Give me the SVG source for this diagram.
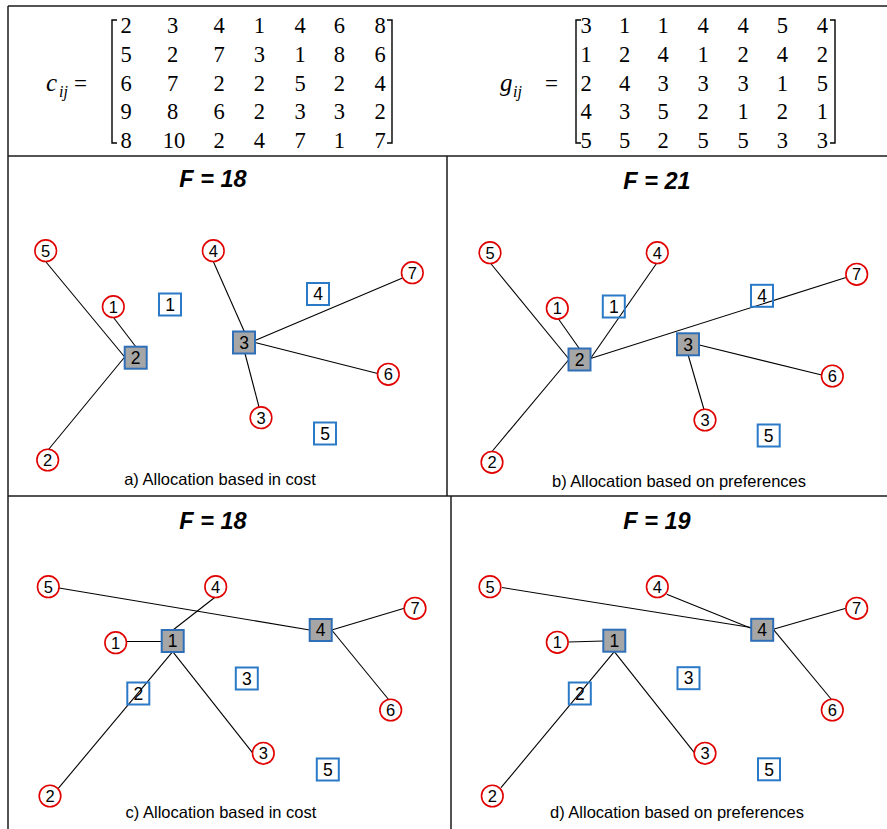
<svg xmlns="http://www.w3.org/2000/svg" width="887" height="829" viewBox="0 0 887 829">
<style>
.frame{stroke:#1a1a1a;stroke-width:1.5;fill:none}
.br{stroke:#000;stroke-width:1.4;fill:none}
.mx{font-family:"Liberation Serif",serif;font-size:22.5px;fill:#000;text-anchor:middle}
.mv{font-family:"Liberation Serif",serif;font-size:25px;font-style:italic;fill:#000}
.ms{font-family:"Liberation Serif",serif;font-size:16px;font-style:italic;fill:#000}
.eq{font-family:"Liberation Serif",serif;font-size:23px;fill:#000}
.title{font-family:"Liberation Sans",Arial,sans-serif;font-size:23.5px;font-weight:bold;font-style:italic;fill:#000;text-anchor:middle}
.cap{font-family:"Liberation Sans",Arial,sans-serif;font-size:16.5px;fill:#000;text-anchor:middle}
.cl circle{fill:#fff;stroke:#e00000;stroke-width:1.6}
.cl text{font-family:"Liberation Sans",Arial,sans-serif;font-size:16.5px;fill:#000;text-anchor:middle}
.fa rect{fill:none;stroke:#2a7ac8;stroke-width:2}
.fa.open rect{fill:#a6a6a6;stroke:#2e6fb8}
.fa text{font-family:"Liberation Sans",Arial,sans-serif;font-size:17.5px;fill:#000;text-anchor:middle}
.conn line{stroke:#000;stroke-width:1.1}
</style>

<!-- frame -->
<g id="frame">
<line class="frame" x1="8" y1="6" x2="887" y2="6"/>
<line class="frame" x1="8" y1="6" x2="8" y2="829"/>
<line class="frame" x1="8" y1="156" x2="887" y2="156"/>
<line class="frame" x1="447" y1="156" x2="447" y2="496"/>
<line class="frame" x1="8" y1="496" x2="887" y2="496"/>
<line class="frame" x1="451" y1="496" x2="451" y2="829"/>
</g>

<!-- matrix c -->
<g id="matrix-c">
<text class="mv" x="46" y="91">c</text>
<text class="ms" x="59" y="97">ij</text>
<text class="eq" x="74" y="91">=</text>
<path class="br" d="M117 20 H112 V143 H117"/>
<path class="br" d="M387 20 H392 V143 H387"/>
<text class="mx" y="33"><tspan x="126">2</tspan><tspan x="172.5">3</tspan><tspan x="219">4</tspan><tspan x="259.3">1</tspan><tspan x="300">4</tspan><tspan x="339.3">6</tspan><tspan x="380">8</tspan></text>
<text class="mx" y="61.8"><tspan x="126">5</tspan><tspan x="172.5">2</tspan><tspan x="219">7</tspan><tspan x="259.3">3</tspan><tspan x="300">1</tspan><tspan x="339.3">8</tspan><tspan x="380">6</tspan></text>
<text class="mx" y="90.6"><tspan x="126">6</tspan><tspan x="172.5">7</tspan><tspan x="219">2</tspan><tspan x="259.3">2</tspan><tspan x="300">5</tspan><tspan x="339.3">2</tspan><tspan x="380">4</tspan></text>
<text class="mx" y="119.4"><tspan x="126">9</tspan><tspan x="172.5">8</tspan><tspan x="219">6</tspan><tspan x="259.3">2</tspan><tspan x="300">3</tspan><tspan x="339.3">3</tspan><tspan x="380">2</tspan></text>
<text class="mx" y="148.2"><tspan x="126">8</tspan><tspan x="174">10</tspan><tspan x="219">2</tspan><tspan x="259.3">4</tspan><tspan x="300">7</tspan><tspan x="339.3">1</tspan><tspan x="380">7</tspan></text>
</g>

<!-- matrix g -->
<g id="matrix-g">
<text class="mv" x="500" y="91">g</text>
<text class="ms" x="513" y="97">ij</text>
<text class="eq" x="545" y="91">=</text>
<path class="br" d="M581 20 H576 V143 H581"/>
<path class="br" d="M830 20 H835 V143 H830"/>
<text class="mx" y="33"><tspan x="586">3</tspan><tspan x="624.7">1</tspan><tspan x="663">1</tspan><tspan x="703">4</tspan><tspan x="743">4</tspan><tspan x="782.3">5</tspan><tspan x="822.3">4</tspan></text>
<text class="mx" y="61.8"><tspan x="586">1</tspan><tspan x="624.7">2</tspan><tspan x="663">4</tspan><tspan x="703">1</tspan><tspan x="743">2</tspan><tspan x="782.3">4</tspan><tspan x="822.3">2</tspan></text>
<text class="mx" y="90.6"><tspan x="586">2</tspan><tspan x="624.7">4</tspan><tspan x="663">3</tspan><tspan x="703">3</tspan><tspan x="743">3</tspan><tspan x="782.3">1</tspan><tspan x="822.3">5</tspan></text>
<text class="mx" y="119.4"><tspan x="586">4</tspan><tspan x="624.7">3</tspan><tspan x="663">5</tspan><tspan x="703">2</tspan><tspan x="743">1</tspan><tspan x="782.3">2</tspan><tspan x="822.3">1</tspan></text>
<text class="mx" y="148.2"><tspan x="586">5</tspan><tspan x="624.7">5</tspan><tspan x="663">2</tspan><tspan x="703">5</tspan><tspan x="743">5</tspan><tspan x="782.3">3</tspan><tspan x="822.3">3</tspan></text>
</g>

<!-- titles and captions -->
<text class="title" x="213" y="187">F = 18</text>
<text class="title" x="657" y="189">F = 21</text>
<text class="title" x="213" y="529">F = 18</text>
<text class="title" x="657" y="529">F = 19</text>
<text class="cap" x="220" y="485">a) Allocation based in cost</text>
<text class="cap" x="679" y="486.5">b) Allocation based on preferences</text>
<text class="cap" x="221" y="818">c) Allocation based in cost</text>
<text class="cap" x="677" y="818">d) Allocation based on preferences</text>

<!-- connectors -->
<g id="connectors" class="conn">
<!-- panel a -->
<line x1="46" y1="262" x2="124.7" y2="357"/>
<line x1="113.5" y1="317.5" x2="136" y2="347"/>
<line x1="48.5" y1="449.5" x2="124.7" y2="357"/>
<line x1="213.3" y1="261.5" x2="244.3" y2="331.5"/>
<line x1="255" y1="340.5" x2="402.5" y2="278"/>
<line x1="255" y1="342.5" x2="377.7" y2="373.5"/>
<line x1="245" y1="353.5" x2="259" y2="407"/>
<!-- panel b -->
<line x1="490.7" y1="263.5" x2="568.5" y2="358.5"/>
<line x1="558.3" y1="318.8" x2="579.3" y2="348.5"/>
<line x1="656.5" y1="263.5" x2="590.5" y2="358.5"/>
<line x1="590.5" y1="358.5" x2="846" y2="277.5"/>
<line x1="492" y1="451.5" x2="568.5" y2="360"/>
<line x1="699.3" y1="345" x2="821.7" y2="375"/>
<line x1="688.3" y1="355.5" x2="704" y2="409.5"/>
<!-- panel c -->
<line x1="59" y1="588" x2="309.7" y2="630"/>
<line x1="215" y1="597.3" x2="172.7" y2="630.3"/>
<line x1="126.7" y1="641.5" x2="161.7" y2="641.5"/>
<line x1="172.7" y1="651.7" x2="58.3" y2="788.3"/>
<line x1="172.7" y1="651.7" x2="253" y2="753.3"/>
<line x1="331.7" y1="630" x2="404.3" y2="608.3"/>
<line x1="331.7" y1="630" x2="389" y2="700"/>
<!-- panel d -->
<line x1="502" y1="587.5" x2="751" y2="627.5"/>
<line x1="666.7" y1="594.3" x2="751" y2="628.3"/>
<line x1="773.3" y1="629.3" x2="846" y2="608.3"/>
<line x1="773.3" y1="629.3" x2="831.5" y2="699.5"/>
<line x1="568.5" y1="642" x2="603.3" y2="641"/>
<line x1="614.3" y1="651.7" x2="501" y2="787.7"/>
<line x1="614.3" y1="651.7" x2="694.3" y2="752.7"/>
</g>

<!-- panel a nodes -->
<g id="a-c1" class="cl"><circle cx="113.3" cy="306.7" r="10.8"/><text x="113.3" y="312.6">1</text></g>
<g id="a-c2" class="cl"><circle cx="47.7" cy="460" r="10.8"/><text x="47.7" y="465.9">2</text></g>
<g id="a-c3" class="cl"><circle cx="261" cy="417.7" r="10.8"/><text x="261" y="423.6">3</text></g>
<g id="a-c4" class="cl"><circle cx="213.3" cy="250.7" r="10.8"/><text x="213.3" y="256.6">4</text></g>
<g id="a-c5" class="cl"><circle cx="45.7" cy="250.7" r="10.8"/><text x="45.7" y="256.6">5</text></g>
<g id="a-c6" class="cl"><circle cx="388.3" cy="374.3" r="10.8"/><text x="388.3" y="380.2">6</text></g>
<g id="a-c7" class="cl"><circle cx="412.3" cy="272.7" r="10.8"/><text x="412.3" y="278.6">7</text></g>
<g id="a-s1" class="fa"><rect x="159" y="293.5" width="22" height="22"/><text x="170" y="310.7">1</text></g>
<g id="a-s2" class="fa open"><rect x="124.7" y="346.7" width="22" height="22"/><text x="135.7" y="363.9">2</text></g>
<g id="a-s3" class="fa open"><rect x="233" y="331.5" width="22" height="22"/><text x="244" y="348.7">3</text></g>
<g id="a-s4" class="fa"><rect x="307" y="283" width="22" height="22"/><text x="318" y="300.2">4</text></g>
<g id="a-s5" class="fa"><rect x="314" y="422.5" width="22" height="22"/><text x="325" y="439.7">5</text></g>

<!-- panel b nodes -->
<g id="b-c1" class="cl"><circle cx="557.3" cy="308.3" r="10.8"/><text x="557.3" y="314.2">1</text></g>
<g id="b-c2" class="cl"><circle cx="492" cy="462.3" r="10.8"/><text x="492" y="468.2">2</text></g>
<g id="b-c3" class="cl"><circle cx="705" cy="420" r="10.8"/><text x="705" y="425.9">3</text></g>
<g id="b-c4" class="cl"><circle cx="657.3" cy="252.7" r="10.8"/><text x="657.3" y="258.6">4</text></g>
<g id="b-c5" class="cl"><circle cx="490" cy="252.7" r="10.8"/><text x="490" y="258.6">5</text></g>
<g id="b-c6" class="cl"><circle cx="832.3" cy="376" r="10.8"/><text x="832.3" y="381.9">6</text></g>
<g id="b-c7" class="cl"><circle cx="856.7" cy="274.3" r="10.8"/><text x="856.7" y="280.2">7</text></g>
<g id="b-s1" class="fa"><rect x="602.8" y="295.5" width="22" height="22"/><text x="613.8" y="312.7">1</text></g>
<g id="b-s2" class="fa open"><rect x="568.5" y="348.5" width="22" height="22"/><text x="579.5" y="365.7">2</text></g>
<g id="b-s3" class="fa open"><rect x="677" y="333.3" width="22" height="22"/><text x="688" y="350.5">3</text></g>
<g id="b-s4" class="fa"><rect x="751" y="284.8" width="22" height="22"/><text x="762" y="302">4</text></g>
<g id="b-s5" class="fa"><rect x="757.7" y="424.5" width="22" height="22"/><text x="768.7" y="441.7">5</text></g>

<!-- panel c nodes -->
<g id="c-c1" class="cl"><circle cx="115.7" cy="642.7" r="10.8"/><text x="115.7" y="648.6">1</text></g>
<g id="c-c2" class="cl"><circle cx="50" cy="796" r="10.8"/><text x="50" y="801.9">2</text></g>
<g id="c-c3" class="cl"><circle cx="263.3" cy="753.3" r="10.8"/><text x="263.3" y="759.2">3</text></g>
<g id="c-c4" class="cl"><circle cx="215.7" cy="586.7" r="10.8"/><text x="215.7" y="592.6">4</text></g>
<g id="c-c5" class="cl"><circle cx="48.3" cy="586.7" r="10.8"/><text x="48.3" y="592.6">5</text></g>
<g id="c-c6" class="cl"><circle cx="390.7" cy="710" r="10.8"/><text x="390.7" y="715.9">6</text></g>
<g id="c-c7" class="cl"><circle cx="415" cy="608.3" r="10.8"/><text x="415" y="614.2">7</text></g>
<g id="c-s1" class="fa open"><rect x="161.7" y="630" width="22" height="22"/><text x="172.7" y="647.2">1</text></g>
<g id="c-s2" class="fa"><rect x="127.3" y="682.5" width="22" height="22"/><text x="138.3" y="699.7">2</text></g>
<g id="c-s3" class="fa"><rect x="235.8" y="667.5" width="22" height="22"/><text x="246.8" y="684.7">3</text></g>
<g id="c-s4" class="fa open"><rect x="309.7" y="619" width="22" height="22"/><text x="320.7" y="636.2">4</text></g>
<g id="c-s5" class="fa"><rect x="316.8" y="758.5" width="22" height="22"/><text x="327.8" y="775.7">5</text></g>

<!-- panel d nodes -->
<g id="d-c1" class="cl"><circle cx="557.3" cy="642.3" r="10.8"/><text x="557.3" y="648.2">1</text></g>
<g id="d-c2" class="cl"><circle cx="492.3" cy="796" r="10.8"/><text x="492.3" y="801.9">2</text></g>
<g id="d-c3" class="cl"><circle cx="705" cy="753.3" r="10.8"/><text x="705" y="759.2">3</text></g>
<g id="d-c4" class="cl"><circle cx="657.3" cy="586.7" r="10.8"/><text x="657.3" y="592.6">4</text></g>
<g id="d-c5" class="cl"><circle cx="490" cy="586.7" r="10.8"/><text x="490" y="592.6">5</text></g>
<g id="d-c6" class="cl"><circle cx="832.3" cy="710" r="10.8"/><text x="832.3" y="715.9">6</text></g>
<g id="d-c7" class="cl"><circle cx="856.7" cy="608.3" r="10.8"/><text x="856.7" y="614.2">7</text></g>
<g id="d-s1" class="fa open"><rect x="603.3" y="629.7" width="22" height="22"/><text x="614.3" y="646.9">1</text></g>
<g id="d-s2" class="fa"><rect x="568.8" y="682.5" width="22" height="22"/><text x="579.8" y="699.7">2</text></g>
<g id="d-s3" class="fa"><rect x="677.5" y="667.2" width="22" height="22"/><text x="688.5" y="684.4">3</text></g>
<g id="d-s4" class="fa open"><rect x="751.2" y="618.8" width="22" height="22"/><text x="762.2" y="636">4</text></g>
<g id="d-s5" class="fa"><rect x="758" y="758.3" width="22" height="22"/><text x="769" y="775.5">5</text></g>
</svg>
